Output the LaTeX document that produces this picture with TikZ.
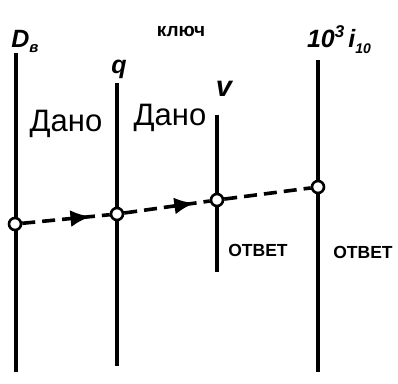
\documentclass[tikz,border=0pt]{standalone}
\usepackage{fontspec}
\setmainfont{Liberation Sans}
\usetikzlibrary{arrows.meta,decorations.markings}
\tikzset{
  scale line/.style={line width=3.4pt, line cap=butt},
  pt/.style={circle, draw, fill=white, line width=2.6pt, minimum size=12pt, inner sep=0pt},
  dashline/.style={line width=3.6pt, dash pattern=on 13pt off 7pt},
  midarrow/.style={postaction={decorate},decoration={markings,
    mark=at position #1 with {\arrow[solid]{Latex[length=20pt,width=17pt]}}}},
  lab/.style={font=\fontsize{25}{27}\selectfont\bfseries\itshape, inner sep=0pt},
  given/.style={font=\fontsize{31}{33}\selectfont, inner sep=0pt},
  ans/.style={font=\fontsize{17.5}{19}\selectfont\bfseries, inner sep=0pt},
}
\begin{document}
\begin{tikzpicture}[x=1pt,y=-1pt]
\useasboundingbox (0,0) rectangle (398,383);
% scale lines
\coordinate (t1) at (16,53);  \coordinate (b1) at (16,372);
\coordinate (t2) at (117,83); \coordinate (b2) at (117,366);
\coordinate (t3) at (217,115);\coordinate (b3) at (217,272);
\coordinate (t4) at (318,60); \coordinate (b4) at (318,372);
\draw[scale line] (t1) -- (b1);
\draw[scale line] (t2) -- (b2);
\draw[scale line] (t3) -- (b3);
\draw[scale line] (t4) -- (b4);
% labels
\node[lab] (l1) at (25,41) {D\raisebox{-5pt}{\fontsize{15}{15}\selectfont в}};
\node[lab] (l2) at (119,69) {q};
\node[lab, font=\fontsize{29}{30}\selectfont\bfseries\itshape] (l3) at (224,89) {v};
\node[lab] (l4) at (339,40) {10\raisebox{10pt}{\fontsize{17}{17}\selectfont 3}\,i\raisebox{-6pt}{\fontsize{14}{14}\selectfont 10}};
\node[ans, font=\fontsize{19}{20}\selectfont\bfseries] (key) at (181,31) {ключ};
\node[given] (g1) at (66,124) {Дано};
\node[given] (g2) at (170,118) {Дано};
\node[ans] (a1) at (258,250) {ОТВЕТ};
\node[ans] (a2) at (363,252) {ОТВЕТ};
% points
\node[pt] (c1) at (15,224) {};
\node[pt] (c2) at (117,214) {};
\node[pt] (c3) at (217,200) {};
\node[pt] (c4) at (318,187) {};
\draw[dashline, midarrow=0.78] (c1) -- (c2);
\draw[dashline, midarrow=0.82] (c2) -- (c3);
\draw[dashline] (c3) -- (c4);
\end{tikzpicture}
\end{document}
